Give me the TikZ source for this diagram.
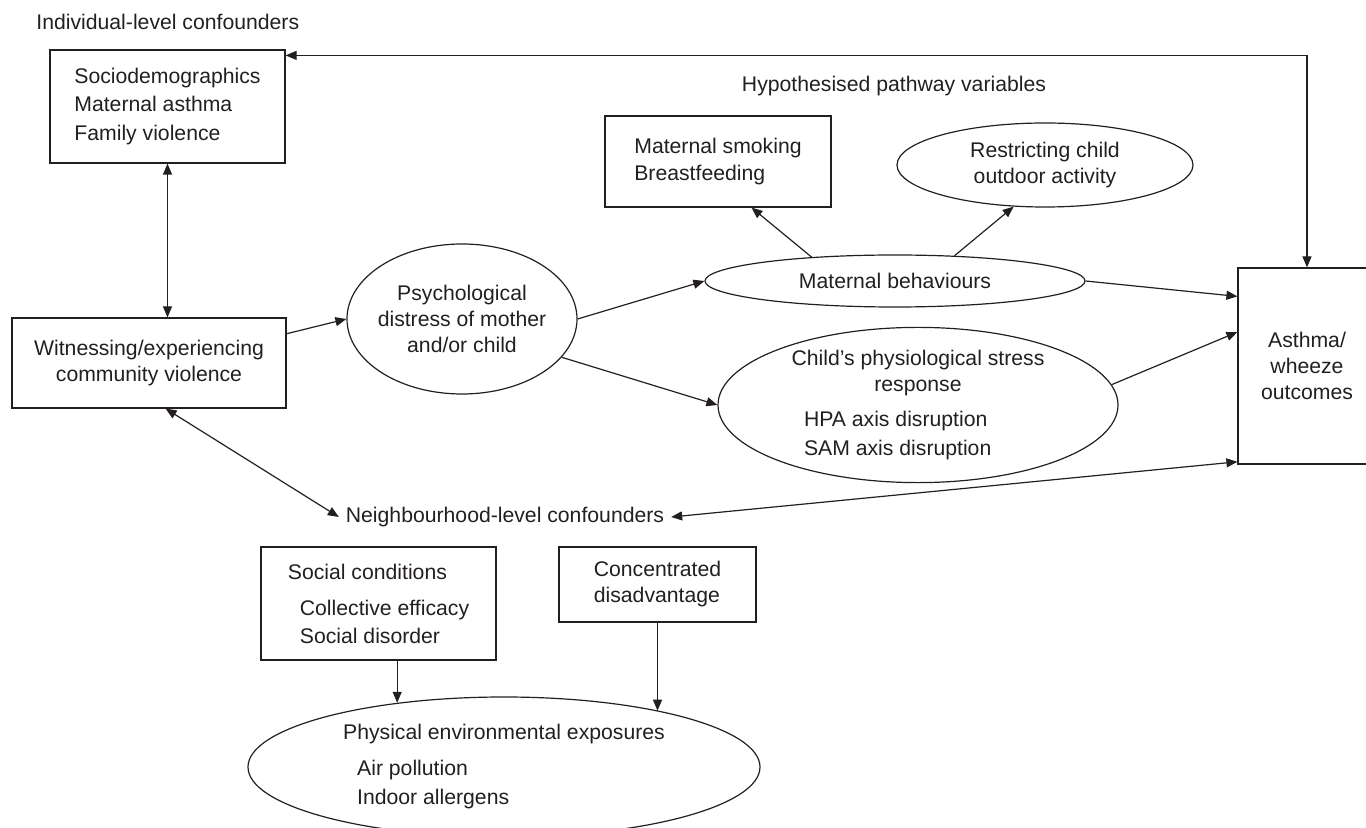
\documentclass[tikz,border=0pt]{standalone}
\usepackage{fontspec}
\setmainfont{Liberation Sans}
\usetikzlibrary{arrows.meta,shapes.geometric}
\definecolor{ink}{HTML}{231F20}

\begin{document}
\begin{tikzpicture}[x=0.5pt,y=-0.5pt,
    every node/.style={font=\fontsize{10.6}{13}\selectfont, text=ink},
    box/.style={draw=ink, line width=0.6pt, inner sep=0pt},
    oval/.style={ellipse, draw=ink, line width=0.6pt, inner sep=0pt},
    arr/.style={draw=ink, line width=0.6pt, -{Triangle[length=5.5pt,width=4.5pt]}},
    darr/.style={arr, {Triangle[length=5.5pt,width=4.5pt]}-{Triangle[length=5.5pt,width=4.5pt]}}]
    \useasboundingbox (0,0) rectangle (1366,828);

    % individual level
    \node[anchor=west, inner sep=0pt] (indiv) at (36,22) {Individual-level confounders};
    \node[box, minimum width=117.5pt, minimum height=56.5pt, align=left] (socio) at (167.5,106.5)
        {Sociodemographics\\[1.25pt]Maternal asthma\\[1.25pt]Family violence};
    \node[box, minimum width=137pt, minimum height=45pt, align=center] (witness) at (149,363)
        {Witnessing/experiencing\\community violence};
    \node[oval, minimum width=115pt, minimum height=75pt, inner xsep=-4pt, align=center] (psych) at (462,319)
        {Psychological\\distress of mother\\and/or child};

    % pathway variables
    \node (pathway) at (894,86) {Hypothesised pathway variables};
    \node[box, minimum width=113pt, minimum height=45.5pt, align=left] (smoking) at (718,161.5)
        {Maternal smoking\\[0.5pt]Breastfeeding};
    \node[oval, minimum width=148pt, minimum height=42pt, align=center] (restrict) at (1045,165)
        {Restricting child\\outdoor activity};
    \node[oval, minimum width=190pt, minimum height=26pt] (behav) at (895,281) {Maternal behaviours};
    \node[oval, minimum width=200pt, minimum height=77pt, align=center] (stress) at (918,405)
        {Child's physiological stress\\response\\[4.5pt]%
         \makebox[114pt][l]{HPA axis disruption}\\[1.5pt]%
         \makebox[114pt][l]{SAM axis disruption}};
    \node[box, minimum width=69pt, minimum height=98pt, align=center] (asthma) at (1307,366)
        {Asthma/\\wheeze\\outcomes};

    % neighbourhood level
    \node (neigh) at (505,517) {Neighbourhood-level confounders};
    \node[box, minimum width=117.5pt, minimum height=56.5pt, align=left] (social) at (378.5,603.5)
        {Social conditions\\[5pt]\hspace*{6pt}Collective efficacy\\[1pt]\hspace*{6pt}Social disorder};
    \node[box, minimum width=98.5pt, minimum height=37.5pt, align=left] (conc) at (657.5,584.5)
        {Concentrated\\disadvantage};
    \node[oval, minimum width=256pt, minimum height=70pt, align=left] (phys) at (504,767)
        {Physical environmental exposures\\[5pt]\hspace*{7pt}Air pollution\\[1.5pt]\hspace*{7pt}Indoor allergens};

    % connectors
    \draw[darr] ([yshift=-3pt]socio.north east) -| (asthma.north);
    \draw[darr] (socio.south) -- (socio.south |- witness.north);
    \draw[arr] (witness.12) -- (psych.west);
    \draw[arr] (psych.east) -- (behav.west);
    \draw[arr] (psych.-21) -- (stress.west);
    \draw[arr] (behav.164) -- (smoking.-54);
    \draw[arr] (behav.23) -- (restrict.233);
    \draw[arr] (behav.east) -- (asthma.135);
    \draw[arr] (stress.6) -- (asthma.154);
    \draw[darr] (witness.-70) -- (neigh.west);
    \draw[darr] (neigh.east) -- (asthma.234);
    \draw[arr] (phys.149 |- social.south) -- (phys.149);
    \draw[arr] (conc.south) -- (conc.south |- phys.20);
\end{tikzpicture}
\end{document}
